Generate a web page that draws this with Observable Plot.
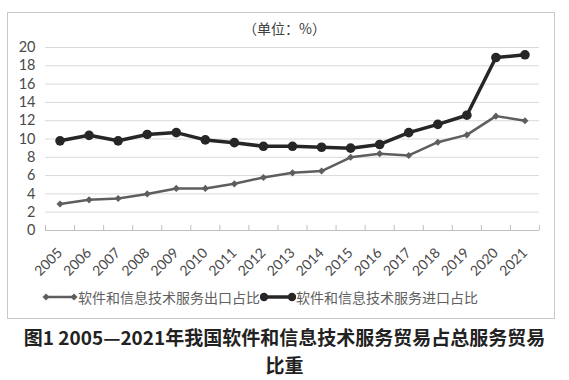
<!DOCTYPE html>
<html>
<head>
<meta charset="utf-8">
<script src="https://cdn.jsdelivr.net/npm/d3@7"></script>
<script src="https://cdn.jsdelivr.net/npm/@observablehq/plot@0.6"></script>
<style>
  html, body { margin: 0; padding: 0; background: #fff; }
  #wrap { position: relative; width: 569px; height: 380px; overflow: hidden; }
  #frame { position: absolute; left: 7px; top: 12px; width: 548px; height: 307px; border: 1.5px solid #c8c8c8; box-sizing: border-box; }
  #unit { position: absolute; left: 0; width: 569px; top: 18px; text-align: center; font: 14px "Noto Sans CJK SC", sans-serif; color: #404040; }
  #chart { position: absolute; left: 0; top: 0; }
  #legend { position: absolute; left: 42px; top: 287px; display: flex; align-items: center; font: 14px "Noto Sans CJK SC", serif; color: #606060; white-space: nowrap; }
  #legend svg { display: block; }
  #caption { position: absolute; left: 0; top: 323px; width: 569px; text-align: center; font: bold 19px/28px "Noto Sans CJK SC", sans-serif; color: #222; }
</style>
</head>
<body>
<div id="wrap">
  <div id="frame"></div>
  <div id="unit">（单位：%）</div>
  <div id="chart"></div>
  <div id="legend"></div>
  <div id="caption">图1 2005—2021年我国软件和信息技术服务贸易占总服务贸易<br>比重</div>
</div>
<script>
const years = [2005, 2006, 2007, 2008, 2009, 2010, 2011, 2012, 2013, 2014, 2015, 2016, 2017, 2018, 2019, 2020, 2021];
const exportShare = [2.9, 3.35, 3.5, 4.0, 4.6, 4.6, 5.1, 5.8, 6.3, 6.5, 8.0, 8.4, 8.2, 9.65, 10.45, 12.5, 12.0];
const importShare = [9.8, 10.4, 9.8, 10.5, 10.7, 9.9, 9.6, 9.2, 9.2, 9.1, 9.0, 9.4, 10.7, 11.6, 12.6, 18.9, 19.2];
const yTicks = [0, 2, 4, 6, 8, 10, 12, 14, 16, 18, 20];
const seriesNames = ["软件和信息技术服务出口占比", "软件和信息技术服务进口占比"];
const colors = ["#5e5e5e", "#262626"];

const exportData = years.map((y, i) => ({year: y, value: exportShare[i]}));
const importData = years.map((y, i) => ({year: y, value: importShare[i]}));
const boundaries = years.map(y => y - 0.5).concat([years[years.length - 1] + 0.5]);

const chart = Plot.plot({
  width: 569,
  height: 280,
  marginLeft: 45,
  marginRight: 30,
  marginTop: 47,
  marginBottom: 50,
  style: {fontFamily: "Lato, 'Open Sans', sans-serif", background: "transparent", overflow: "visible"},
  x: {domain: [years[0] - 0.5, years[years.length - 1] + 0.5]},
  y: {domain: [0, 20]},
  marks: [
    Plot.gridY(yTicks, {stroke: "#d9d9d9", strokeOpacity: 1, strokeWidth: 1}),
    Plot.axisY(yTicks, {tickSize: 0, tickPadding: 10, fontSize: 14.5, color: "#4a4a4a", label: null}),
    Plot.ruleY([0], {stroke: "#bfbfbf", strokeWidth: 1.2}),
    Plot.axisX(boundaries, {tickSize: -5, tickFormat: () => "", stroke: "#bfbfbf", strokeOpacity: 1, label: null}),
    Plot.axisX(years, {tickSize: 0, tickPadding: 20, tickRotate: -45, tickFormat: d => String(d), fontSize: 14, color: "#4a4a4a", label: null}),
    Plot.line(exportData, {x: "year", y: "value", stroke: colors[0], strokeWidth: 2.5}),
    Plot.dot(exportData, {x: "year", y: "value", symbol: "diamond2", r: 3.2, fill: colors[0], stroke: "none"}),
    Plot.line(importData, {x: "year", y: "value", stroke: colors[1], strokeWidth: 3.5}),
    Plot.dot(importData, {x: "year", y: "value", r: 4.8, fill: colors[1], stroke: "none"})
  ]
});
document.getElementById("chart").appendChild(chart);

const legend = document.getElementById("legend");
seriesNames.forEach((name, i) => {
  const ns = "http://www.w3.org/2000/svg";
  const svg = document.createElementNS(ns, "svg");
  svg.setAttribute("width", 36);
  svg.setAttribute("height", 14);
  const line = document.createElementNS(ns, "line");
  line.setAttribute("x1", 4); line.setAttribute("x2", 32);
  line.setAttribute("y1", 7); line.setAttribute("y2", 7);
  line.setAttribute("stroke", colors[i]);
  line.setAttribute("stroke-width", i === 0 ? 2.5 : 3.5);
  svg.appendChild(line);
  [4, 32].forEach(cx => {
    if (i === 0) {
      const p = document.createElementNS(ns, "path");
      p.setAttribute("d", `M${cx},${7 - 3.5}L${cx + 3.5},7L${cx},${7 + 3.5}L${cx - 3.5},7Z`);
      p.setAttribute("fill", colors[i]);
      svg.appendChild(p);
    } else {
      const c = document.createElementNS(ns, "circle");
      c.setAttribute("cx", cx); c.setAttribute("cy", 7); c.setAttribute("r", 4.2);
      c.setAttribute("fill", colors[i]);
      svg.appendChild(c);
    }
  });
  legend.appendChild(svg);
  const span = document.createElement("span");
  span.textContent = name;
  legend.appendChild(span);
});
</script>
</body>
</html>
